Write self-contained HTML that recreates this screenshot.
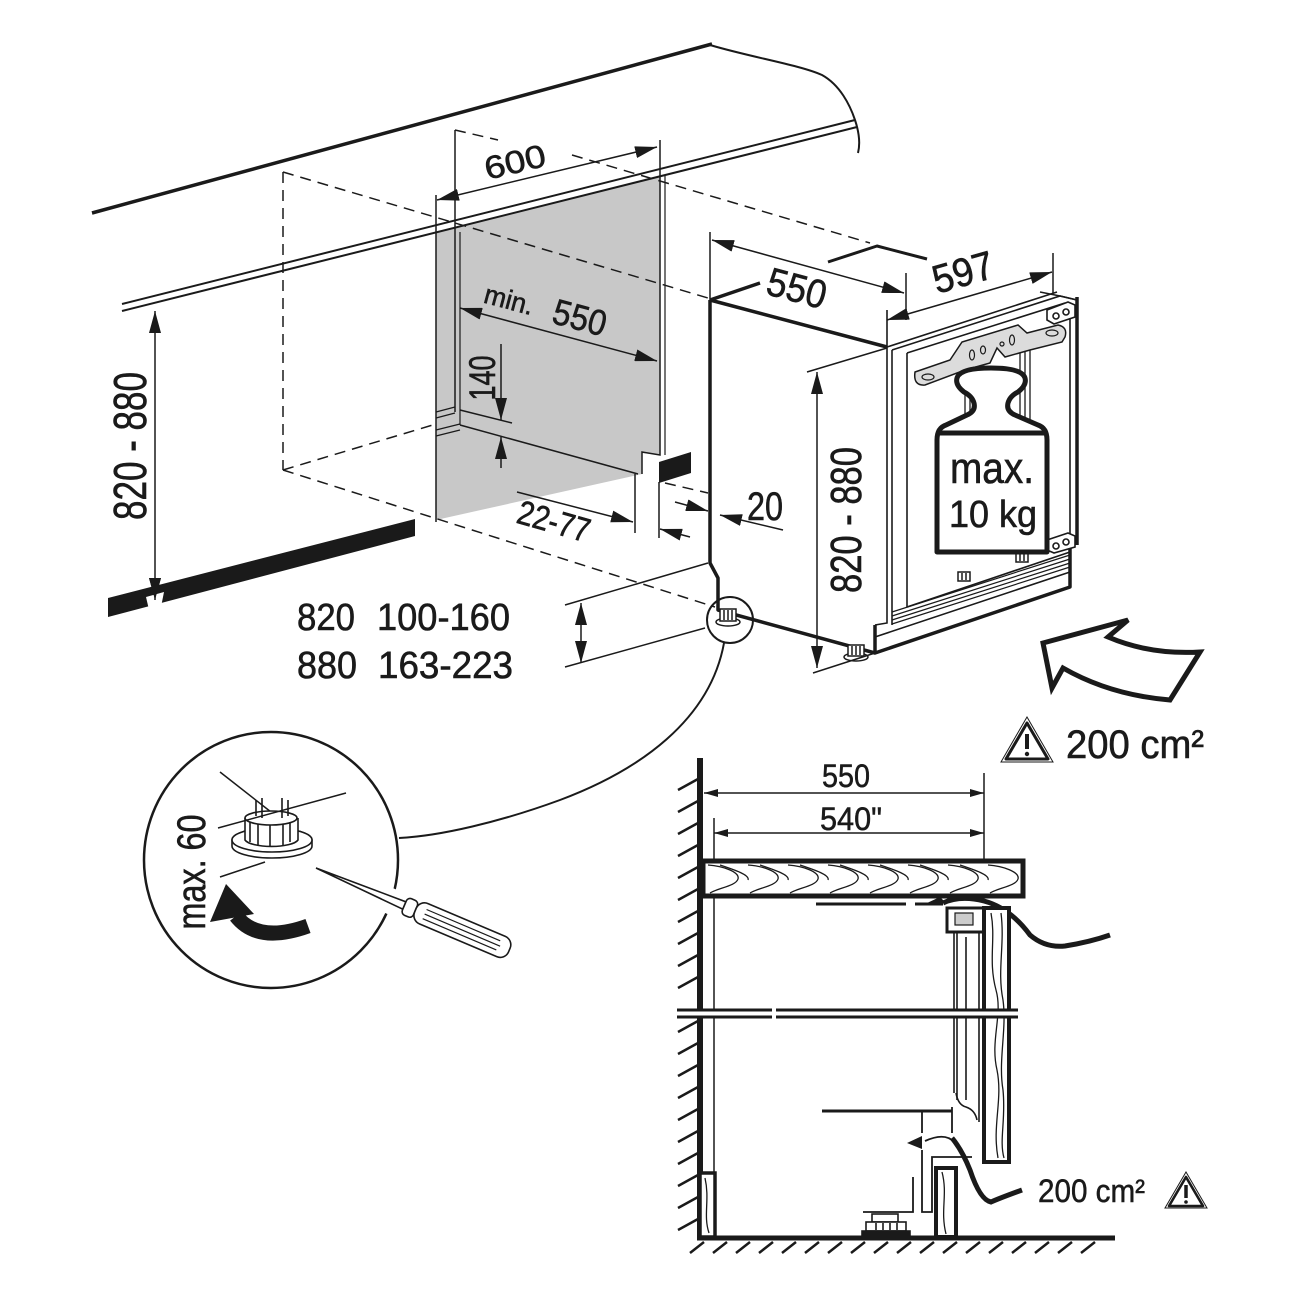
<!DOCTYPE html>
<html><head><meta charset="utf-8"><style>html,body{margin:0;padding:0;background:#fff}svg{display:block}</style></head>
<body>
<svg width="1300" height="1300" viewBox="0 0 1300 1300" xmlns="http://www.w3.org/2000/svg" fill="none" stroke="#1a1a1a" font-family="'Liberation Sans Narrow','Liberation Sans',sans-serif">
<defs>
<marker id="a" markerUnits="userSpaceOnUse" markerWidth="22" markerHeight="12" viewBox="0 0 22 12" refX="22" refY="6" orient="auto-start-reverse"><path d="M0,0 L22,6 L0,12z" fill="#1a1a1a" stroke="none"/></marker>
<marker id="s" markerUnits="userSpaceOnUse" markerWidth="14" markerHeight="8" viewBox="0 0 14 8" refX="14" refY="4" orient="auto-start-reverse"><path d="M0,0 L14,4 L0,8z" fill="#1a1a1a" stroke="none"/></marker>
</defs>
<rect width="1300" height="1300" fill="#fff" stroke="none"/>

<!-- grey side panel -->
<polygon points="436,232 660,176 660,455 642,453 642,474 436,520" fill="#c8c8c8" stroke="none"/>

<!-- counter top -->
<path d="M92,213 L712,44" stroke-width="3.5"/>
<path d="M710,45 C750,57 800,65 822,75 C840,85 850,105 855,120 C860,135 860,145 858,153" stroke-width="2"/>
<path d="M122,304 L855,120" stroke-width="2"/>
<path d="M122,311 L857,127" stroke-width="2"/>

<!-- dashed niche -->
<g stroke-width="1.5" stroke-dasharray="11 7">
<path d="M283,172 V470"/>
<path d="M283,172 L708,298"/>
<path d="M455,130 L498,140"/>
<path d="M572,155 L870,243"/>
<path d="M283,470 L436,424"/>
<path d="M283,470 L715,607"/>
<path d="M665,483 L708,493"/>
</g>

<!-- grey panel lines -->
<g stroke-width="1.5">
<path d="M436,195 V522"/>
<path d="M455,130 V412"/>
<path d="M460,232 V425" stroke-width="1.2"/>
<path d="M660,140 V455 L642,452 V474"/>
<path d="M665,176 V455" stroke-width="1.2"/>
<path d="M436,412 L455,407 M436,418 L455,413 M436,430 L460,424 M436,436 L460,430" stroke-width="1.2"/>
<path d="M460,410 L512,423"/>
<path d="M460,425 L638,474"/>
<path d="M635,474 V533 M659,482 V538"/>
</g>

<!-- dims left part -->
<g stroke-width="1.5">
<path d="M437,200 L657,147" marker-start="url(#a)" marker-end="url(#a)"/>
<path d="M460,308 L657,361" marker-start="url(#a)" marker-end="url(#a)"/>
<path d="M501,344 V420" marker-end="url(#a)"/>
<path d="M501,468 V437" marker-end="url(#a)"/>
<path d="M517,492 L633,522" marker-end="url(#a)"/>
<path d="M690,537 L660,529" marker-end="url(#a)"/>
<path d="M675,502 L708,511" marker-end="url(#a)"/>
<path d="M783,530 L720,515" marker-end="url(#a)"/>
<path d="M155,311 V600" marker-start="url(#a)" marker-end="url(#a)"/>
<path d="M565,605 L708,563 M565,667 L705,628"/>
<path d="M581,603 V663" marker-start="url(#a)" marker-end="url(#a)"/>
</g>

<!-- black strips -->
<polygon points="108,598 415,519 415,536 108,617" fill="#1a1a1a" stroke="none"/>
<polygon points="146,597 164,592 160,612 150,614" fill="#fff" stroke="none"/>
<path d="M155,590 V600" stroke-width="1.5" marker-end="url(#a)"/>
<polygon points="659,462 691,452 691,473 659,483" fill="#1a1a1a" stroke="none"/>

<!-- texts left -->
<g fill="#1a1a1a" stroke="#1a1a1a" stroke-width="0.6">
<text transform="translate(515,162) rotate(-13.5)" y="11" text-anchor="middle" font-size="32" textLength="62" lengthAdjust="spacingAndGlyphs">600</text>
<text transform="translate(509,300) rotate(15)" y="9" text-anchor="middle" font-size="27" textLength="50" lengthAdjust="spacingAndGlyphs">min.</text>
<text transform="translate(580,317) rotate(15)" y="13" text-anchor="middle" font-size="36" textLength="54" lengthAdjust="spacingAndGlyphs">550</text>
<text transform="translate(482,378) rotate(-90)" y="13" text-anchor="middle" font-size="37" textLength="45" lengthAdjust="spacingAndGlyphs">140</text>
<text transform="translate(554,521) rotate(16)" y="12" text-anchor="middle" font-size="34" textLength="74" lengthAdjust="spacingAndGlyphs">22-77</text>
<text x="765" y="520" text-anchor="middle" font-size="40" textLength="36" lengthAdjust="spacingAndGlyphs">20</text>
<text transform="translate(130,446) rotate(-90)" y="16" text-anchor="middle" font-size="46" textLength="148" lengthAdjust="spacingAndGlyphs">820 - 880</text>
<text x="297" y="630" font-size="38" textLength="58" lengthAdjust="spacingAndGlyphs">820</text>
<text x="377" y="630" font-size="38" textLength="133" lengthAdjust="spacingAndGlyphs">100-160</text>
<text x="297" y="678" font-size="38" textLength="60" lengthAdjust="spacingAndGlyphs">880</text>
<text x="378" y="678" font-size="38" textLength="135" lengthAdjust="spacingAndGlyphs">163-223</text>
</g>

<!-- fridge -->
<g stroke-width="3.5" stroke-linejoin="round">
<path d="M710,300 V563 L718,578 V610 L875,653"/>
<path d="M710,300 L887,347"/>
<path d="M710,300 L760,283"/>
<path d="M828,262 L877,246 L927,259" stroke-width="3"/>
<path d="M875,625 V653 L1070,587 V548"/>
<path d="M1077,297 V545" stroke-width="3.5"/>
</g>
<g stroke-width="1.6">
<path d="M887,310 V623 L875,625"/>
<path d="M887,347 L1057,292"/>
<path d="M892,350 L1060,296 L1077,300"/>
<path d="M892,350 V625"/>
<path d="M907,353 V607"/>
<path d="M907,353 L1065,303"/>
<path d="M1070,303 V550"/>
<path d="M907,607 L1070,552"/>
<path d="M892,612 L1070,555 M892,616 L1070,559 M892,620 L1070,563 M892,624 L1070,567" stroke-width="1.2"/>
<path d="M875,637 L1070,572"/>
<path d="M1040,292 L1060,296 L1077,300"/>
</g>
<!-- rails behind weight -->
<g stroke-width="1.3">
<path d="M1020,340 V420 M1025,338 V420 M1030,336 V420"/>
<path d="M965,370 V420 M970,370 V420"/>
</g>
<!-- small brackets -->
<g stroke-width="1.5">
<rect x="958" y="572" width="12" height="9"/><path d="M962,573 V580 M966,573 V580"/>
<rect x="1016" y="553" width="12" height="9"/><path d="M1020,554 V561 M1024,554 V561"/>
</g>
<!-- hinges -->
<g stroke-width="1.6" fill="#fff">
<path d="M1047,310 L1068,302 L1075,305 L1075,317 L1054,324 L1047,320 Z"/>
<circle cx="1056" cy="316" r="3"/><circle cx="1066" cy="312" r="3"/>
<path d="M1047,540 L1068,533 L1075,536 L1075,547 L1054,553 L1047,550 Z"/>
<circle cx="1056" cy="546" r="3"/><circle cx="1066" cy="542" r="3"/>
</g>
<!-- mounting plate -->
<path d="M915,372 L950,360 L962,342 L1018,325 L1027,333 L1058,325 Q1068,327 1065,337 L1062,342 L1030,350 L1005,357 L997,348 L990,363 L965,370 L925,385 Q913,386 915,372 Z" fill="#dcdcdc" stroke-width="1.5"/>
<g stroke-width="1.2">
<ellipse cx="928" cy="377" rx="6" ry="3"/>
<ellipse cx="972" cy="355" rx="2.5" ry="5"/>
<ellipse cx="983" cy="350" rx="2.5" ry="4"/>
<ellipse cx="1012" cy="340" rx="2.5" ry="5"/>
<ellipse cx="1002" cy="344" rx="2" ry="2"/>
<ellipse cx="1052" cy="333" rx="6" ry="3"/>
</g>
<!-- weight -->
<path d="M937,552 L1047,552 L1047,440 Q1047,428 1038,425 L1015,415 Q1006,411 1008,403 Q1010,396 1018,392 Q1027,385 1025,378 Q1022,368 991,368 Q960,368 957,378 Q955,385 964,392 Q972,396 974,403 Q976,411 967,415 L946,425 Q937,428 937,440 Z" fill="#fff" stroke-width="5" stroke-linejoin="round"/>
<path d="M937,433 H1047" stroke-width="5"/>
<g fill="#1a1a1a" stroke="#1a1a1a" stroke-width="0.6">
<text x="992" y="483" text-anchor="middle" font-size="44" textLength="84" lengthAdjust="spacingAndGlyphs">max.</text>
<text x="993" y="527" text-anchor="middle" font-size="38" textLength="88" lengthAdjust="spacingAndGlyphs">10 kg</text>
</g>

<!-- feet -->
<g stroke-width="1.5" fill="#fff">
<ellipse cx="728" cy="622" rx="12" ry="4"/>
<rect x="720" y="609" width="16" height="12"/>
<path d="M724,610 V620 M728,610 V620 M732,610 V620"/>
<ellipse cx="856" cy="657" rx="12" ry="4"/>
<rect x="848" y="645" width="16" height="11"/>
<path d="M852,646 V655 M856,646 V655 M860,646 V655"/>
</g>
<circle cx="730" cy="620" r="23" stroke-width="2"/>

<!-- fridge dims -->
<g stroke-width="1.5">
<path d="M710,232 V300 M906,273 V320 M1053,253 V293"/>
<path d="M712,240 L904,293" marker-start="url(#a)" marker-end="url(#a)"/>
<path d="M887,320 L1052,272" marker-start="url(#a)" marker-end="url(#a)"/>
<path d="M807,372 L887,348 M813,673 L875,653"/>
<path d="M817,372 V668" marker-start="url(#a)" marker-end="url(#a)"/>
</g>
<g fill="#1a1a1a" stroke="#1a1a1a" stroke-width="0.6">
<text transform="translate(797,288) rotate(15)" y="14" text-anchor="middle" font-size="40" textLength="60" lengthAdjust="spacingAndGlyphs">550</text>
<text transform="translate(963,272) rotate(-16)" y="14" text-anchor="middle" font-size="40" textLength="62" lengthAdjust="spacingAndGlyphs">597</text>
<text transform="translate(845,520) rotate(-90)" y="16" text-anchor="middle" font-size="44" textLength="146" lengthAdjust="spacingAndGlyphs">820 - 880</text>
</g>

<!-- intake arrow -->
<path d="M1043,643 L1128,620 L1108,637 Q1150,655 1200,652 L1170,700 Q1110,695 1063,668 L1052,688 Z" fill="#fff" stroke-width="5" stroke-linejoin="miter"/>
<!-- warning top -->
<path d="M1027,717 L1053,762 L1001,762 Z" stroke-width="1" />
<path d="M1027,723 L1048,759 L1006,759 Z" stroke-width="3" stroke-linejoin="round"/>
<path d="M1027,734 V749" stroke-width="4"/>
<circle cx="1027" cy="754" r="2.2" fill="#1a1a1a" stroke="none"/>
<text x="1066" y="758" font-size="40" textLength="138" lengthAdjust="spacingAndGlyphs" fill="#1a1a1a" stroke="#1a1a1a" stroke-width="0.6">200 cm²</text>

<!-- connector -->
<path d="M724,643 C710,720 640,770 560,800 C500,822 440,836 399,838" stroke-width="2"/>

<!-- magnifier circle -->
<ellipse cx="271" cy="860" rx="127" ry="128" stroke-width="2.5"/>
<rect x="370" y="888" width="40" height="26" fill="#fff" stroke="none" transform="rotate(23 390 901)"/>
<g stroke-width="1.5">
<path d="M220,772 L271,812"/>
<path d="M220,877 L265,862"/>
</g>
<!-- foot in circle -->
<g stroke-width="1.6" fill="#fff">
<path d="M232,846 A40,12 0 0 0 312,846 V840 A40,12 0 0 0 232,840 Z"/>
<ellipse cx="272" cy="840" rx="40" ry="12"/>
<path d="M245,818 V840 A27,8 0 0 0 298,840 V818"/>
<ellipse cx="271" cy="818" rx="26" ry="7"/>
<path d="M250,822 V842 M258,824 V845 M290,822 V842 M283,824 V845 M270,825 V847"/>
<path d="M256,800 V816 M262,798 V818 M282,798 V818 M288,800 V816"/>
</g>
<path d="M218,828 L346,793" stroke-width="1.5"/>
<!-- rotate arrow -->
<path d="M236,916 Q258,944 308,926" stroke-width="15" stroke="#1a1a1a"/>
<polygon points="226,884 210,922 254,914" fill="#1a1a1a" stroke="none"/>
<text transform="translate(192,872) rotate(-90)" y="13" text-anchor="middle" font-size="40" textLength="115" lengthAdjust="spacingAndGlyphs" fill="#1a1a1a" stroke="#1a1a1a" stroke-width="0.6">max. 60</text>
<!-- screwdriver -->
<g transform="translate(316,868) rotate(23)" stroke-width="1.6" fill="#fff">
<path d="M0,0 L96,-4 L96,4 Z"/>
<rect x="96" y="-9" width="12" height="18" rx="4"/>
<rect x="108" y="-11" width="102" height="22" rx="9"/>
<path d="M118,-5 H198 M118,0 H200 M118,5 H198" stroke-width="1.2"/>
</g>

<!-- ===== section view ===== -->
<path d="M700,758 V1240" stroke-width="6"/>
<g stroke-width="2.5">
<path d="M678,790 L698,779 M678,812 L698,801 M678,834 L698,823 M678,856 L698,845 M678,878 L698,867 M678,900 L698,889 M678,922 L698,911 M678,944 L698,933 M678,966 L698,955 M678,988 L698,977 M678,1032 L698,1021 M678,1054 L698,1043 M678,1076 L698,1065 M678,1098 L698,1087 M678,1120 L698,1109 M678,1142 L698,1131 M678,1164 L698,1153 M678,1186 L698,1175 M678,1208 L698,1197 M678,1230 L698,1219"/>
</g>
<path d="M697,1238 H1115" stroke-width="5"/>
<g stroke-width="2.5">
<path d="M690,1253 L704,1242 M713,1253 L727,1242 M736,1253 L750,1242 M759,1253 L773,1242 M782,1253 L796,1242 M805,1253 L819,1242 M828,1253 L842,1242 M851,1253 L865,1242 M874,1253 L888,1242 M897,1253 L911,1242 M920,1253 L934,1242 M943,1253 L957,1242 M966,1253 L980,1242 M989,1253 L1003,1242 M1012,1253 L1026,1242 M1035,1253 L1049,1242 M1058,1253 L1072,1242 M1081,1253 L1095,1242"/>
</g>
<!-- section dims -->
<g stroke-width="1.5">
<path d="M984,773 V897 M714,818 V1237"/>
<path d="M704,793 H984" marker-start="url(#s)" marker-end="url(#s)"/>
<path d="M714,833 H984" marker-start="url(#s)" marker-end="url(#s)"/>
</g>
<g fill="#1a1a1a" stroke="#1a1a1a" stroke-width="0.5">
<text x="846" y="787" text-anchor="middle" font-size="32" textLength="48" lengthAdjust="spacingAndGlyphs">550</text>
<text x="851" y="830" text-anchor="middle" font-size="32" textLength="62" lengthAdjust="spacingAndGlyphs">540"</text>
</g>
<!-- counter section -->
<rect x="703" y="861" width="320" height="35" fill="#fff" stroke-width="5"/>
<g stroke-width="1.3">
<path d="M708,865 C723,866 740,872 738,879 C736,886 718,888 710,893"/>
<path d="M748,865 C763,866 780,872 778,879 C776,886 758,888 750,893"/>
<path d="M788,865 C803,866 820,872 818,879 C816,886 798,888 790,893"/>
<path d="M828,865 C843,866 860,872 858,879 C856,886 838,888 830,893"/>
<path d="M868,865 C883,866 900,872 898,879 C896,886 878,888 870,893"/>
<path d="M908,865 C923,866 940,872 938,879 C936,886 918,888 910,893"/>
<path d="M948,865 C963,866 980,872 978,879 C976,886 958,888 950,893"/>
<path d="M988,865 C1003,866 1020,872 1018,879 C1016,886 998,888 990,893"/>
<path d="M720,865 C735,870 750,875 748,880 M760,865 C775,870 790,875 788,880 M800,865 C815,870 830,875 828,880 M840,865 C855,870 870,875 868,880 M880,865 C895,870 910,875 908,880 M920,865 C935,870 950,875 948,880 M960,865 C975,870 990,875 988,880"/>
</g>
<!-- under counter -->
<path d="M816,904 H906" stroke-width="3"/>
<path d="M915,904 H943" stroke-width="3"/>
<polygon points="927,903 940,897 946,903" fill="#1a1a1a" stroke="none"/>
<path d="M943,903 Q960,895 984,901 Q1010,908 1030,935 Q1045,948 1065,946 Q1090,942 1110,935" stroke-width="5"/>
<!-- fridge section -->
<g stroke-width="1.6">
<path d="M954,932 V1093 M957,932 V1100 M966,937 V1100 M979,913 V1122"/>
<path d="M956,1093 Q958,1105 966,1107 Q975,1110 977,1120"/>
</g>
<rect x="947" y="908" width="37" height="24" fill="#fff" stroke-width="3"/>
<rect x="955" y="913" width="18" height="12" fill="#ccc" stroke-width="1.2"/>
<!-- door panel -->
<rect x="984" y="908" width="25" height="254" fill="#fff" stroke-width="4"/>
<g stroke-width="1.3">
<path d="M991,913 C996,940 988,960 996,990 C1003,1015 990,1040 997,1070 C1003,1100 992,1125 998,1158"/>
<path d="M1001,913 C1005,945 997,970 1003,1000 C1007,1030 998,1060 1003,1090 C1006,1120 999,1140 1004,1158"/>
</g>
<!-- break lines -->
<rect x="675" y="1011" width="345" height="5" fill="#fff" stroke="none"/>
<g stroke-width="3">
<path d="M677,1010 H772 M776,1010 H1018"/>
<path d="M677,1017 H772 M776,1017 H1018"/>
</g>
<!-- lower -->
<path d="M822,1111 H952" stroke-width="3"/>
<g stroke-width="1.8">
<path d="M922,1111 V1133 M952,1107 V1133"/>
<path d="M922,1150 V1212 H932 V1157 H972"/>
<path d="M913,1177 V1212 H863"/>
<path d="M954,1142 Q945,1132 925,1141" />
</g>
<polygon points="907,1143 922,1136 922,1149" fill="#1a1a1a" stroke="none"/>
<path d="M1022,1190 Q1000,1198 991,1202 Q980,1200 970,1170 Q962,1150 952,1138" stroke-width="5"/>
<!-- plinths -->
<rect x="936" y="1168" width="20" height="69" fill="#fff" stroke-width="4"/>
<path d="M942,1172 C948,1195 940,1210 946,1234" stroke-width="1.3"/>
<rect x="700" y="1173" width="15" height="64" fill="#fff" stroke-width="3.5"/>
<path d="M705,1178 C710,1200 703,1215 709,1233" stroke-width="1.3"/>
<!-- section foot -->
<g stroke-width="1.6" fill="#fff">
<rect x="872" y="1214" width="26" height="8"/>
<rect x="866" y="1222" width="40" height="9"/>
<rect x="862" y="1231" width="48" height="6" fill="#1a1a1a"/>
<path d="M876,1223 V1230 M883,1223 V1230 M890,1223 V1230 M897,1223 V1230"/>
</g>
<!-- bottom 200cm2 -->
<text x="1038" y="1202" font-size="32" textLength="107" lengthAdjust="spacingAndGlyphs" fill="#1a1a1a" stroke="#1a1a1a" stroke-width="0.5">200 cm²</text>
<path d="M1186,1172 L1207,1208 L1165,1208 Z" stroke-width="1"/>
<path d="M1186,1177 L1203,1206 L1169,1206 Z" stroke-width="2.6" stroke-linejoin="round"/>
<path d="M1186,1185 V1198" stroke-width="3.5"/>
<circle cx="1186" cy="1202" r="1.8" fill="#1a1a1a" stroke="none"/>
</svg>
</body></html>
